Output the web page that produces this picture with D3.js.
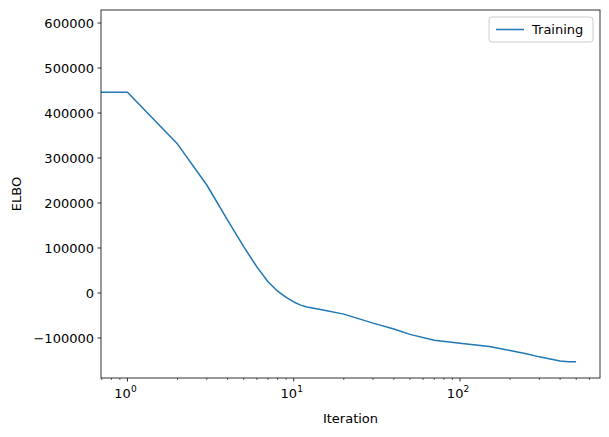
<!DOCTYPE html>
<html><head><meta charset="utf-8">
<script src="https://cdn.jsdelivr.net/npm/d3@7"></script>
<style>body{margin:0;background:#fff}text{font-family:"DejaVu Sans",sans-serif}</style>
</head><body><svg id="c" width="609" height="437"></svg>
<script>
const iterations = [0,1,2,3,4,5,6,7,8,9,10,11,12,15,20,30,40,50,70,100,150,200,250,300,400,450,499];
const elbo = [446000,446000,331000,240000,162000,103000,58000,25000,4000,-10000,-20000,-27000,-31000,-38000,-47000,-67000,-80000,-92000,-105000,-112000,-119000,-128000,-135000,-142000,-151000,-153000,-153000];
const yTicks = [-100000,0,100000,200000,300000,400000,500000,600000];
const seriesName = "Training";

const svg = d3.select("#c");
const L=101,R=600,T=10,B=378;
const x = d3.scaleLog().domain([0.693,695]).range([L,R]);
const y = d3.scaleLinear().domain([-189000,629000]).range([B,T]);
svg.append("clipPath").attr("id","cp").append("rect").attr("x",L).attr("y",T).attr("width",R-L).attr("height",B-T);
const line = d3.line().x(d=>d[0]>0?x(d[0]):L-10).y(d=>y(d[1]));
svg.append("path").datum(iterations.map((v,i)=>[v,elbo[i]])).attr("d",line)
  .attr("fill","none").attr("stroke","#1f77b4").attr("stroke-width",1.5).attr("stroke-linejoin","round").attr("clip-path","url(#cp)");
svg.append("rect").attr("x",L).attr("y",T).attr("width",R-L).attr("height",B-T).attr("fill","none").attr("stroke","#000").attr("stroke-width",0.8);
const ya = svg.append("g");
yTicks.forEach(t=>{
  ya.append("line").attr("x1",L-3.5).attr("x2",L).attr("y1",y(t)).attr("y2",y(t)).attr("stroke","#000").attr("stroke-width",0.8);
  ya.append("text").attr("x",L-7).attr("y",y(t)).attr("dy","0.35em").attr("text-anchor","end").attr("font-size",13).text(t<0?"\u2212"+(-t):t);
});
const xa = svg.append("g");
[1,10,100].forEach((t,i)=>{
  xa.append("line").attr("x1",x(t)).attr("x2",x(t)).attr("y1",B).attr("y2",B+3.5).attr("stroke","#000").attr("stroke-width",0.8);
  const tx = xa.append("text").attr("x",x(t)-2).attr("y",B+20).attr("text-anchor","middle").attr("font-size",13);
  tx.append("tspan").text("10");
  tx.append("tspan").attr("dy",-6).attr("font-size",9).text(i);
});
for(let d=0.1;d<1000;d*=10){for(let m=2;m<10;m++){const v=d*m;if(v<0.693||v>695)continue;
  xa.append("line").attr("x1",x(v)).attr("x2",x(v)).attr("y1",B).attr("y2",B+2).attr("stroke","#000").attr("stroke-width",0.6);}}
svg.append("text").attr("x",(L+R)/2).attr("y",423).attr("text-anchor","middle").attr("font-size",13).text("Iteration");
svg.append("text").attr("transform",`translate(21,${(T+B)/2}) rotate(-90)`).attr("text-anchor","middle").attr("font-size",13).text("ELBO");
const lg = svg.append("g");
lg.append("rect").attr("x",489).attr("y",17).attr("width",104).attr("height",25).attr("rx",3).attr("fill","#fff").attr("stroke","#ccc");
lg.append("line").attr("x1",496).attr("x2",524).attr("y1",29.5).attr("y2",29.5).attr("stroke","#1f77b4").attr("stroke-width",1.5);
lg.append("text").attr("x",532).attr("y",29.5).attr("dy","0.35em").attr("font-size",13).text(seriesName);
</script></body></html>
